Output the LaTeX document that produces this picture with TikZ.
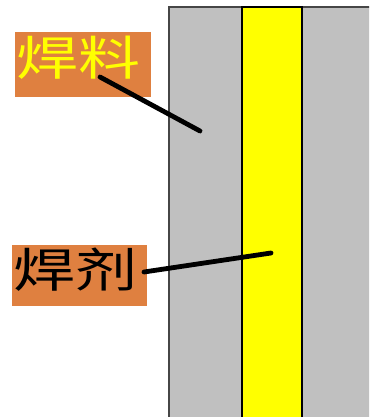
\documentclass[tikz,border=0pt]{standalone}
\usepackage{fontspec}
\newfontfamily\cjkwide[FakeStretch=1.32]{Noto Sans CJK SC}
\definecolor{labelorange}{RGB}{223,128,64}
\definecolor{metalgray}{RGB}{192,192,192}
\definecolor{edgegray}{RGB}{70,70,70}
\definecolor{fluxyellow}{RGB}{255,255,0}
\tikzset{
  labelbox/.style={fill=labelorange, draw=none, inner sep=0pt, anchor=north west},
  labeltext/.style={anchor=base west, inner sep=0pt, font=\cjkwide\fontsize{47}{47}\selectfont},
  leader/.style={line width=4.8pt, line cap=round, black}
}
\begin{document}
\begin{tikzpicture}[x=1pt,y=-1pt]
\useasboundingbox (0,0) rectangle (369,417);
\fill[white] (0,0) rectangle (369,417);
\begin{scope}
\clip (0,0) rectangle (369,417);
% base metal
\draw[fill=metalgray, draw=edgegray, line width=1.6pt] (169,7) rectangle (380,430);
% flux layer
\draw[fill=fluxyellow, draw=black, line width=1.6pt] (242,7) rectangle (302,430);
\end{scope}
% labels
\node[labelbox, minimum width=136pt, minimum height=65pt] (solderbox) at (15,32) {};
\node[labeltext, text=fluxyellow] (soldertxt) at (16.5,75.5) {焊料};
\node[labelbox, minimum width=135pt, minimum height=61pt] (fluxbox) at (12,245) {};
\node[labeltext, text=black] (fluxtxt) at (13.5,287.5) {焊剂};
% leader end points
\coordinate (solderstart) at (100,77);
\coordinate (solderend) at (200,131);
\coordinate (fluxstart) at (144,272);
\coordinate (fluxend) at (271,253);
\draw[leader] (solderstart) -- (solderend);
\draw[leader] (fluxstart) -- (fluxend);
\end{tikzpicture}
\end{document}
